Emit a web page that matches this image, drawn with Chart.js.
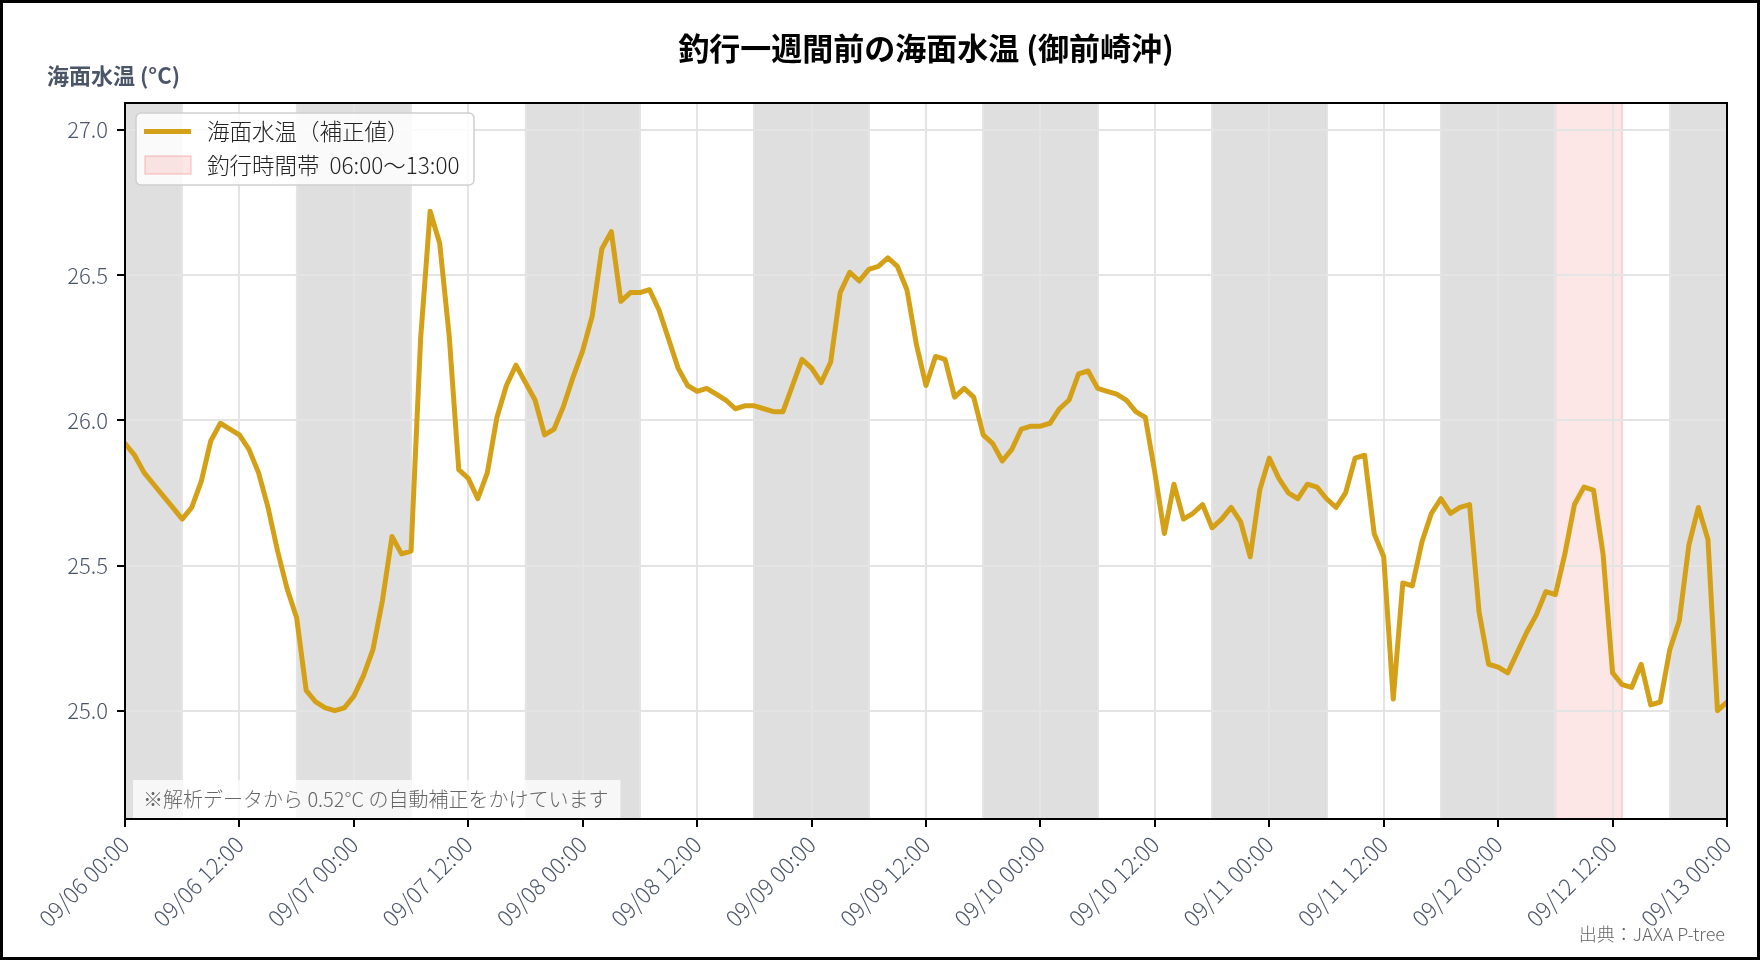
<!DOCTYPE html>
<html lang="ja">
<head>
<meta charset="utf-8">
<title>釣行一週間前の海面水温 (御前崎沖)</title>
<script src="https://cdn.jsdelivr.net/npm/chart.js@4.4.1/dist/chart.umd.min.js"></script>
<style>
  html, body { margin: 0; padding: 0; background: #ffffff; }
  #wrap { width: 1760px; height: 960px; }
</style>
</head>
<body>
<div id="wrap"><canvas id="c" width="1760" height="960"></canvas></div>
<script>
// ---------- text ----------
const titleText = '釣行一週間前の海面水温 (御前崎沖)';
const yAxisLabel = '海面水温 (°C)';
const seriesLabel = '海面水温（補正値）';
const bandLabel = '釣行時間帯  06:00〜13:00';
const noteText = '※解析データから 0.52°C の自動補正をかけています';
const sourceText = '出典：JAXA P-tree';

// ---------- data (hourly, from 09/06 00:00) ----------
const sst0906 = [25.92, 25.88, 25.82, 25.78, 25.74, 25.70, 25.66, 25.70, 25.79, 25.93, 25.99, 25.97,
                 25.95, 25.90, 25.82, 25.70, 25.55, 25.42, 25.32, 25.07, 25.03, 25.01, 25.00, 25.01];
const sst0907 = [25.05, 25.12, 25.21, 25.38, 25.60, 25.54, 25.55, 26.28, 26.72, 26.61, 26.29, 25.83,
                 25.80, 25.73, 25.82, 26.01, 26.12, 26.19, 26.13, 26.07, 25.95, 25.97, 26.05, 26.15];
const sst0908 = [26.24, 26.36, 26.59, 26.65, 26.41, 26.44, 26.44, 26.45, 26.38, 26.28, 26.18, 26.12,
                 26.10, 26.11, 26.09, 26.07, 26.04, 26.05, 26.05, 26.04, 26.03, 26.03, 26.12, 26.21];
const sst0909 = [26.18, 26.13, 26.20, 26.44, 26.51, 26.48, 26.52, 26.53, 26.56, 26.53, 26.45, 26.26,
                 26.12, 26.22, 26.21, 26.08, 26.11, 26.08, 25.95, 25.92, 25.86, 25.90, 25.97, 25.98];
const sst0910 = [25.98, 25.99, 26.04, 26.07, 26.16, 26.17, 26.11, 26.10, 26.09, 26.07, 26.03, 26.01,
                 25.82, 25.61, 25.78, 25.66, 25.68, 25.71, 25.63, 25.66, 25.70, 25.65, 25.53, 25.76];
const sst0911 = [25.87, 25.80, 25.75, 25.73, 25.78, 25.77, 25.73, 25.70, 25.75, 25.87, 25.88, 25.61,
                 25.53, 25.04, 25.44, 25.43, 25.58, 25.68, 25.73, 25.68, 25.70, 25.71, 25.34, 25.16];
const sst0912 = [25.15, 25.13, 25.20, 25.27, 25.33, 25.41, 25.40, 25.54, 25.71, 25.77, 25.76, 25.54,
                 25.13, 25.09, 25.08, 25.16, 25.02, 25.03, 25.21, 25.31, 25.57, 25.70, 25.59, 25.00];
const sst0913 = [25.03];

// x tick labels (every 12 hours) and y ticks
const tickLabels = ['09/06 00:00', '09/06 12:00', '09/07 00:00', '09/07 12:00', '09/08 00:00',
                    '09/08 12:00', '09/09 00:00', '09/09 12:00', '09/10 00:00', '09/10 12:00',
                    '09/11 00:00', '09/11 12:00', '09/12 00:00', '09/12 12:00', '09/13 00:00'];
const yTicks = [25.0, 25.5, 26.0, 26.5, 27.0];

// shaded periods, in hours from 09/06 00:00
const nightBands = [[0, 6], [18, 30], [42, 54], [66, 78], [90, 102], [114, 126], [138, 150], [162, 168]];
const fishingBand = [150, 157];

const totalHours = 168;
const yMin = 24.627, yMax = 27.093;

// ---------- style ----------
const LINE_COLOR = '#d4a017';
const AXIS_TEXT = '#4a5568';
const GRID = '#e4e4e4';
const FONT = "'Noto Sans CJK JP', 'Noto Sans', sans-serif";
Chart.defaults.font.family = FONT;

const sstValues = [].concat(sst0906, sst0907, sst0908, sst0909, sst0910, sst0911, sst0912, sst0913);
const points = sstValues.map((v, i) => ({ x: i, y: v }));

function roundRect(ctx, x, y, w, h, r) {
  ctx.beginPath();
  ctx.moveTo(x + r, y);
  ctx.lineTo(x + w - r, y);
  ctx.arcTo(x + w, y, x + w, y + r, r);
  ctx.lineTo(x + w, y + h - r);
  ctx.arcTo(x + w, y + h, x + w - r, y + h, r);
  ctx.lineTo(x + r, y + h);
  ctx.arcTo(x, y + h, x, y + h - r, r);
  ctx.lineTo(x, y + r);
  ctx.arcTo(x, y, x + r, y, r);
  ctx.closePath();
}

const bandsPlugin = {
  id: 'bands',
  beforeDraw(chart) {
    const { ctx, chartArea: a, scales: { x } } = chart;
    ctx.save();
    ctx.fillStyle = '#ffffff';
    ctx.fillRect(0, 0, chart.width, chart.height);
    nightBands.forEach(([s, e]) => {
      const x0 = x.getPixelForValue(s), x1 = x.getPixelForValue(e);
      ctx.fillStyle = 'rgba(128,128,128,0.25)';
      ctx.fillRect(x0, a.top, x1 - x0, a.bottom - a.top);
      ctx.strokeStyle = 'rgba(128,128,128,0.2)';
      ctx.lineWidth = 1.5;
      ctx.strokeRect(x0, a.top, x1 - x0, a.bottom - a.top);
    });
    const f0 = x.getPixelForValue(fishingBand[0]), f1 = x.getPixelForValue(fishingBand[1]);
    ctx.fillStyle = 'rgba(240,128,128,0.2)';
    ctx.fillRect(f0, a.top, f1 - f0, a.bottom - a.top);
    ctx.strokeStyle = 'rgba(240,128,128,0.35)';
    ctx.lineWidth = 1.5;
    ctx.strokeRect(f0, a.top, f1 - f0, a.bottom - a.top);
    ctx.restore();
  }
};

const overlayPlugin = {
  id: 'overlay',
  afterDraw(chart) {
    const { ctx, chartArea: a } = chart;
    ctx.save();
    // footnote box
    ctx.font = '300 20px ' + FONT;
    const nw = ctx.measureText(noteText).width;
    ctx.fillStyle = 'rgba(255,255,255,0.75)';
    ctx.fillRect(a.left + 8, a.bottom - 39, nw + 22, 38);
    ctx.fillStyle = '#666666';
    ctx.textBaseline = 'middle';
    ctx.textAlign = 'left';
    ctx.fillText(noteText, a.left + 18, a.bottom - 20);

    // legend
    const lx = a.left + 11, ly = a.top + 10, lw = 338, lh = 72;
    roundRect(ctx, lx, ly, lw, lh, 5);
    ctx.fillStyle = 'rgba(255,255,255,0.85)';
    ctx.fill();
    ctx.strokeStyle = '#cfcfcf';
    ctx.lineWidth = 1.5;
    ctx.stroke();
    ctx.strokeStyle = LINE_COLOR;
    ctx.lineWidth = 5;
    ctx.beginPath();
    ctx.moveTo(lx + 8, ly + 18.5);
    ctx.lineTo(lx + 55, ly + 18.5);
    ctx.stroke();
    ctx.fillStyle = 'rgba(240,128,128,0.2)';
    ctx.fillRect(lx + 9, ly + 43, 46, 18);
    ctx.strokeStyle = 'rgba(240,128,128,0.35)';
    ctx.lineWidth = 1.5;
    ctx.strokeRect(lx + 9, ly + 43, 46, 18);
    ctx.fillStyle = '#222222';
    ctx.font = '300 22.5px ' + FONT;
    ctx.fillText(seriesLabel, lx + 71, ly + 18.5);
    ctx.fillText(bandLabel, lx + 71, ly + 52);

    // plot frame
    ctx.strokeStyle = '#000000';
    ctx.lineWidth = 2;
    ctx.strokeRect(a.left, a.top, a.right - a.left, a.bottom - a.top);

    // source
    ctx.fillStyle = '#666666';
    ctx.font = '300 18px ' + FONT;
    ctx.textAlign = 'right';
    ctx.fillText(sourceText, a.right - 2, 934);

    // outer frame
    ctx.strokeStyle = '#000000';
    ctx.lineWidth = 3;
    ctx.strokeRect(1.5, 1.5, chart.width - 3, chart.height - 3);
    ctx.restore();
  }
};

new Chart(document.getElementById('c'), {
  type: 'line',
  data: {
    datasets: [{
      label: seriesLabel,
      data: points,
      borderColor: LINE_COLOR,
      backgroundColor: LINE_COLOR,
      borderWidth: 5,
      pointRadius: 0,
      tension: 0,
      fill: false,
      borderJoinStyle: 'round',
      borderCapStyle: 'round'
    }]
  },
  options: {
    responsive: false,
    animation: false,
    events: [],
    layout: { padding: { top: 0, left: 47, right: 33, bottom: 0 } },
    plugins: {
      legend: { display: false },
      tooltip: { enabled: false },
      title: {
        display: true, text: titleText, fullSize: false, color: '#000000',
        font: { size: 31, weight: 'bold', lineHeight: 1 },
        padding: { top: 33, bottom: 0 }
      },
      subtitle: {
        display: true, text: yAxisLabel, align: 'start', fullSize: true, color: AXIS_TEXT,
        font: { size: 22, weight: 'bold', lineHeight: 1 },
        padding: { top: 1, bottom: 16 }
      }
    },
    scales: {
      x: {
        type: 'linear', min: 0, max: totalHours,
        afterBuildTicks: (s) => {
          const t = [];
          for (let h = 0; h <= totalHours; h += 6) t.push({ value: h });
          s.ticks = t;
        },
        ticks: {
          autoSkip: false, maxRotation: 45, minRotation: 45, color: AXIS_TEXT,
          font: { size: 22.5, weight: 300 }, padding: 4,
          callback: (v) => (v % 12 === 0 ? tickLabels[v / 12] : '')
        },
        grid: {
          color: GRID, lineWidth: 2, tickLength: 8, tickWidth: 2,
          tickColor: (c) => (c.tick && c.tick.value % 12 === 0 ? '#000000' : 'rgba(0,0,0,0)')
        },
        border: { color: '#000000', width: 2 },
        afterFit: (s) => { s.height = 141; s.paddingLeft = 0; s.paddingRight = 0; }
      },
      y: {
        min: yMin, max: yMax,
        afterBuildTicks: (s) => { s.ticks = yTicks.map(v => ({ value: v })); },
        ticks: { color: AXIS_TEXT, font: { size: 22, weight: 300 }, padding: 9, callback: (v) => Number(v).toFixed(1) },
        grid: { color: GRID, lineWidth: 2, tickLength: 8, tickWidth: 2, tickColor: '#000000' },
        border: { color: '#000000', width: 2 },
        afterFit: (s) => { s.width = 78; }
      }
    }
  },
  plugins: [bandsPlugin, overlayPlugin]
});
</script>
</body>
</html>
